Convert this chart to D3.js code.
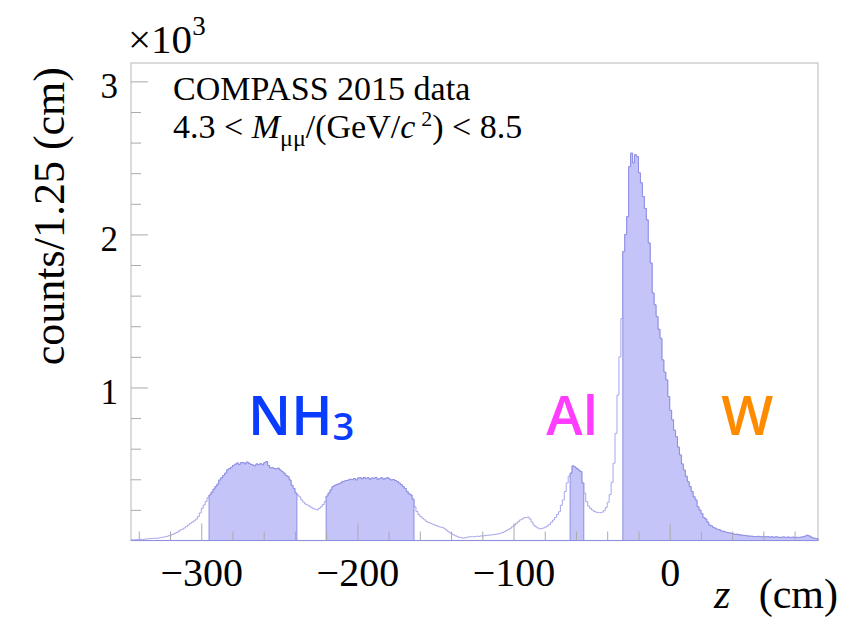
<!DOCTYPE html>
<html>
<head>
<meta charset="utf-8">
<script src="https://cdn.jsdelivr.net/npm/d3@7"></script>
<style>
  body { margin: 0; background: #fff; }
</style>
</head>
<body>
<svg id="chart" width="849" height="625"></svg>
<script>
// z vertex distribution, COMPASS 2015 Drell-Yan data

// histogram binning (cm)
const zMin = -345;
const zMax = 95;
const binWidth = 1.25;

// counts per 1.25 cm bin
const counts = [
  4, 3, 5, 6, 7, 8, 7, 10, 11, 12,
  13, 14, 15, 14, 17, 19, 21, 24, 27, 31,
  36, 40, 46, 52, 60, 69, 74, 82, 92, 102,
  112, 120, 128, 140, 156, 180, 210, 232, 255, 280,
  297, 315, 335, 352, 368, 395, 410, 425, 440, 461,
  470, 478, 490, 498, 506, 495, 508, 509, 500, 512,
  505, 497, 493, 488, 500, 496, 502, 494, 508, 515,
  490, 474, 476, 470, 468, 472, 461, 450, 440, 425,
  417, 395, 360, 340, 310, 297, 285, 265, 250, 238,
  232, 225, 215, 208, 205, 200, 210, 221, 235, 254,
  290, 310, 330, 352, 360, 365, 370, 375, 385, 388,
  392, 395, 400, 398, 405, 395, 408, 410, 402, 412,
  405, 410, 400, 408, 406, 412, 398, 404, 410, 400,
  406, 410, 402, 395, 398, 392, 385, 375, 365, 352,
  340, 320, 305, 297, 270, 221, 190, 170, 156, 145,
  135, 125, 118, 113, 108, 102, 98, 92, 88, 85,
  80, 70, 60, 50, 42, 36, 30, 24, 20, 18,
  16, 18, 22, 24, 25, 24, 26, 28, 27, 30,
  30, 32, 34, 35, 36, 38, 40, 42, 44, 48,
  52, 58, 65, 72, 80, 90, 100, 112, 122, 134,
  140, 148, 150, 153, 140, 120, 101, 90, 82, 76,
  78, 82, 88, 95, 105, 120, 134, 150, 170, 188,
  230, 265, 320, 376, 420, 440, 487, 480, 470, 460,
  450, 376, 310, 254, 225, 210, 199, 190, 185, 182,
  182, 185, 195, 215, 250, 300, 380, 505, 700, 950,
  1200, 1450, 1888, 2000, 2116, 2443, 2531, 2467, 2520, 2508,
  2402, 2337, 2247, 2170, 2095, 1944, 1813, 1617, 1540, 1463,
  1380, 1321, 1180, 1100, 1049, 940, 850, 788, 720, 678,
  610, 559, 500, 460, 420, 384, 352, 320, 286, 265,
  220, 199, 175, 150, 140, 120, 101, 95, 85, 80,
  73, 70, 62, 60, 56, 52, 50, 47, 44, 40,
  41, 38, 35, 34, 33, 30, 29,
  28, 27, 26, 25, 27, 24, 25, 26, 23, 24,
  22, 24, 21, 23, 22, 20, 21, 23, 20, 22,
  21, 20, 22, 19, 21, 20, 22, 24, 28, 34,
  30, 22, 16, 14, 12
];

// target cuts (filled regions): NH3 cell 1, NH3 cell 2, Al, W
const cutLow  = [-295, -220, -63.75, -30];
const cutHigh = [-238.75, -163.75, -55, 95];

// axis ticks
const xTickValues = [-300, -200, -100, 0];
const yTickValues = [1000, 2000, 3000];
const yTickLabels = ['1', '2', '3'];

// target names and where they sit (z, counts)
const targetNames = ['NH', 'Al', 'W'];
const targetZ = [-270, -79, 33];
const targetCount = 690;

const colours = { nh3: '#0a3cff',
                  al: '#ff3dff',
                  w: '#ff8c00',
                  histLine: '#a6a6ee',
                  fill: '#c4c4f9',
                  fillEdge: '#8e8ee2',
                  frame: '#c4c4c4',
                  tick: '#aaaaaa' };

const serif = '"Liberation Serif", "Times New Roman", serif';

// frame
const frameLeft = 131, frameRight = 818, frameTop = 63, frameBottom = 540.5;

const svg = d3.select('svg#chart');

const x = d3.scaleLinear().domain([zMin, zMax]).range([frameLeft, frameRight]);
const y = d3.scaleLinear().domain([0, 3120]).range([frameBottom, frameTop]);

// build [edge, count] points for bins i0..i1 as a closed step shape
function histPoints(i0, i1) {
  const pts = [[zMin + i0 * binWidth, 0]];
  for (let i = i0; i <= i1; i++) {
    pts.push([zMin + i * binWidth, counts[i]]);
  }
  pts.push([zMin + (i1 + 1) * binWidth, counts[i1]]);
  pts.push([zMin + (i1 + 1) * binWidth, 0]);
  return pts;
}

const stepLine = d3.line()
  .x(d => x(d[0]))
  .y(d => y(d[1]))
  .curve(d3.curveStepAfter);

// frame
svg.append('rect')
  .attr('x', frameLeft).attr('y', frameTop)
  .attr('width', frameRight - frameLeft).attr('height', frameBottom - frameTop)
  .attr('fill', 'none')
  .attr('stroke', colours.frame)
  .attr('stroke-width', 1.2);

// full histogram outline
svg.append('path')
  .attr('d', stepLine(histPoints(0, counts.length - 1)))
  .attr('fill', 'none')
  .attr('stroke', colours.histLine)
  .attr('stroke-width', 1);

// filled target regions
cutLow.forEach((lo, j) => {
  const i0 = Math.round((lo - zMin) / binWidth);
  const i1 = Math.round((cutHigh[j] - zMin) / binWidth) - 1;
  svg.append('path')
    .attr('d', stepLine(histPoints(i0, i1)) + 'Z')
    .attr('fill', colours.fill)
    .attr('stroke', colours.fillEdge)
    .attr('stroke-width', 1);
});

// zero line along the bottom
svg.append('line')
  .attr('x1', frameLeft).attr('x2', frameRight)
  .attr('y1', y(0)).attr('y2', y(0))
  .attr('stroke', colours.fillEdge)
  .attr('stroke-width', 1.2);

// x axis, ticks pointing inwards
const xAxis = svg.append('g')
  .attr('transform', 'translate(0,' + frameBottom + ')')
  .call(d3.axisBottom(x)
    .tickValues(xTickValues)
    .tickSizeInner(-17)
    .tickSizeOuter(0)
    .tickPadding(17)
    .tickFormat(d => d < 0 ? '\u2212' + Math.abs(d) : d));
xAxis.select('.domain').remove();
xAxis.selectAll('line').attr('stroke', colours.tick);
xAxis.selectAll('text')
  .attr('font-family', serif)
  .attr('font-size', 40)
  .attr('fill', '#000');

const xMinor = svg.append('g')
  .attr('transform', 'translate(0,' + frameBottom + ')')
  .call(d3.axisBottom(x)
    .tickValues(d3.range(-340, 95, 20).filter(v => v % 100 !== 0))
    .tickSizeInner(-9)
    .tickSizeOuter(0)
    .tickFormat(''));
xMinor.select('.domain').remove();
xMinor.selectAll('line').attr('stroke', colours.tick);

// y axis
const yAxis = svg.append('g')
  .attr('transform', 'translate(' + frameLeft + ',0)')
  .call(d3.axisLeft(y)
    .tickValues(yTickValues)
    .tickSizeInner(-17)
    .tickSizeOuter(0)
    .tickPadding(13)
    .tickFormat((d, i) => yTickLabels[i]));
yAxis.select('.domain').remove();
yAxis.selectAll('line').attr('stroke', colours.tick);
yAxis.selectAll('text')
  .attr('font-family', serif)
  .attr('font-size', 35)
  .attr('dy', '0.45em')
  .attr('fill', '#000');

const yMinor = svg.append('g')
  .attr('transform', 'translate(' + frameLeft + ',0)')
  .call(d3.axisLeft(y)
    .tickValues(d3.range(200, 3120, 200).filter(v => v % 1000 !== 0))
    .tickSizeInner(-10)
    .tickSizeOuter(0)
    .tickFormat(''));
yMinor.select('.domain').remove();
yMinor.selectAll('line').attr('stroke', colours.tick);

// exponent above the y axis
const expo = svg.append('text')
  .attr('x', 128).attr('y', 53)
  .attr('font-family', serif)
  .attr('font-size', 41);
expo.append('tspan').text('\u00d710');
expo.append('tspan').attr('font-size', 27).attr('dy', -18).text('3');

// axis titles
svg.append('text')
  .attr('transform', 'translate(64,67) rotate(-90)')
  .attr('text-anchor', 'end')
  .attr('font-family', serif)
  .attr('font-size', 44)
  .text('counts/1.25 (cm)');

svg.append('text')
  .attr('x', 714).attr('y', 608)
  .attr('font-family', serif)
  .attr('font-size', 42)
  .attr('font-style', 'italic')
  .text('z');
svg.append('text')
  .attr('x', 838).attr('y', 608)
  .attr('text-anchor', 'end')
  .attr('font-family', serif)
  .attr('font-size', 42)
  .text('(cm)');

// legend text
svg.append('text')
  .attr('x', 173).attr('y', 100)
  .attr('font-family', serif)
  .attr('font-size', 34)
  .text('COMPASS 2015 data');

const cut = svg.append('text')
  .attr('x', 173).attr('y', 138)
  .attr('font-family', serif)
  .attr('font-size', 34);
cut.append('tspan').text('4.3 < ');
cut.append('tspan').attr('font-style', 'italic').text('M');
cut.append('tspan').attr('font-size', 24).attr('dy', 8).text('\u03bc\u03bc');
cut.append('tspan').attr('dy', -8).text('/(GeV/');
cut.append('tspan').attr('font-style', 'italic').text('c');
cut.append('tspan').attr('font-size', 22).attr('dx', 6).attr('dy', -12).text('2');
cut.append('tspan').attr('dy', 12).text(') < 8.5');

// target labels
const targetColourList = [colours.nh3, colours.al, colours.w];
targetNames.forEach((name, i) => {
  const t = svg.append('text')
    .attr('x', x(targetZ[i]))
    .attr('y', y(targetCount))
    .attr('font-family', '"Open Sans", sans-serif')
    .attr('font-weight', 600)
    .attr('font-size', 55)
    .attr('fill', targetColourList[i])
    .text(name);
  if (name === 'NH') {
    t.append('tspan').attr('font-size', 38).attr('dy', 5).text('3');
  }
});
</script>
</body>
</html>
